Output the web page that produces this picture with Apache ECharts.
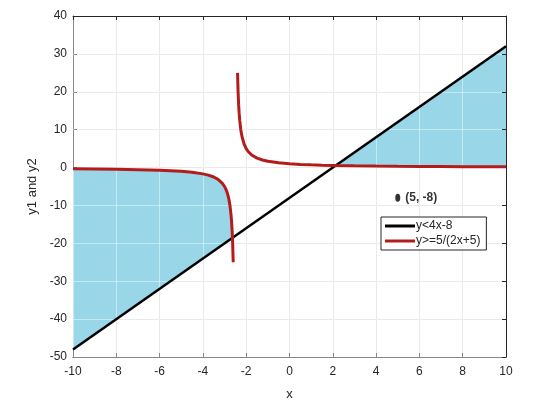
<!DOCTYPE html>
<html>
<head>
<meta charset="utf-8">
<script src="https://cdn.jsdelivr.net/npm/echarts@6/dist/echarts.min.js"></script>
<style>html,body{margin:0;padding:0;background:#fff;}#c{width:537px;height:418px;}</style>
</head>
<body>
<div id="c"></div>
<script>
// Straight line y = 4x - 8 (endpoints)
const lineX = [-10, 10];
const lineY = [-48, 32];

// Left branch of y = 5/(2x+5)
const hypLeftX = [-10, -9, -8, -7, -6, -5.5, -5, -4.5, -4, -3.75, -3.5, -3.3, -3.1, -3, -2.95, -2.9, -2.85, -2.8, -2.75, -2.7, -2.675, -2.65, -2.635, -2.625, -2.6];
const hypLeftY = [-0.333, -0.385, -0.455, -0.556, -0.714, -0.833, -1, -1.25, -1.667, -2, -2.5, -3.125, -4.167, -5, -5.556, -6.25, -7.143, -8.333, -10, -12.5, -14.286, -16.667, -18.52, -20, -25];

// Right branch of y = 5/(2x+5)
const hypRightX = [-2.4, -2.375, -2.35, -2.325, -2.3, -2.25, -2.2, -2.1, -2, -1.9, -1.75, -1.5, -1.25, -1, -0.5, 0, 0.5, 1, 1.5, 2, 2.135, 3, 4, 5, 6, 7, 8, 9, 10];
const hypRightY = [25, 20, 16.667, 14.286, 12.5, 10, 8.333, 6.25, 5, 4.167, 3.333, 2.5, 2, 1.667, 1.25, 1, 0.833, 0.714, 0.625, 0.556, 0.54, 0.455, 0.385, 0.333, 0.294, 0.263, 0.238, 0.217, 0.2];

// Intersection points of the two curves
const crossX = [-2.635, 2.135];
const crossY = [-18.52, 0.54];

// Marked point
const pointX = [5];
const pointY = [-8];
const pointLabel = ['(5, -8)'];

const seriesNames = ['y<4x-8', 'y>=5/(2x+5)'];
const xTicks = [-10, -8, -6, -4, -2, 0, 2, 4, 6, 8, 10];
const yTicks = [-50, -40, -30, -20, -10, 0, 10, 20, 30, 40];

const zip = (xs, ys) => xs.map((x, i) => [x, ys[i]]);

// Fill polygons built from the arrays above
const leftPoly = zip(hypLeftX, hypLeftY).filter(p => p[0] <= crossX[0])
  .concat([[lineX[0], lineY[0]]]);
const rightPoly = [[crossX[1], crossY[1]], [lineX[1], lineY[1]]]
  .concat(zip(hypRightX, hypRightY).filter(p => p[0] >= crossX[1]).reverse());
const polys = [leftPoly, rightPoly];

const FONT = 'Liberation Sans, Arial, sans-serif';
const TXT = '#262626';

const chart = echarts.init(document.getElementById('c'), null, {renderer: 'canvas'});
const axisCommonX = {
  type: 'value', min: xTicks[0], max: xTicks[xTicks.length - 1], interval: 2
};
const axisCommonY = {
  type: 'value', min: yTicks[0], max: yTicks[yTicks.length - 1], interval: 10
};
chart.setOption({
  animation: false,
  backgroundColor: '#ffffff',
  textStyle: {fontFamily: FONT},
  grid: {left: 73, right: 31, top: 16, bottom: 61, containLabel: false},
  legend: {
    data: seriesNames,
    orient: 'vertical',
    left: 381, top: 217,
    backgroundColor: '#ffffff',
    borderColor: TXT, borderWidth: 1,
    padding: [3, 6, 3, 4],
    itemGap: 3,
    itemWidth: 30, itemHeight: 3,
    icon: 'rect',
    textStyle: {fontFamily: FONT, fontSize: 12, color: TXT, padding: [0, 0, 0, -4]}
  },
  xAxis: [
    Object.assign({}, axisCommonX, {
      position: 'bottom', z: 0,
      name: 'x', nameLocation: 'middle', nameGap: 31,
      nameTextStyle: {fontFamily: FONT, fontSize: 13, color: TXT},
      axisLine: {show: true, onZero: false, lineStyle: {color: TXT, width: 1}},
      axisTick: {show: true, inside: true, length: 4, lineStyle: {color: TXT}},
      axisLabel: {fontFamily: FONT, fontSize: 12, color: TXT, margin: 9},
      splitLine: {show: true, lineStyle: {color: '#d9d9d9', width: 1}}
    }),
    Object.assign({}, axisCommonX, {
      position: 'top', z: 3,
      axisLine: {show: true, onZero: false, lineStyle: {color: TXT, width: 1}},
      axisTick: {show: true, inside: true, length: 4, lineStyle: {color: TXT}},
      axisLabel: {show: false},
      splitLine: {show: true, lineStyle: {color: 'rgba(255,255,255,0.45)', width: 1}}
    })
  ],
  yAxis: [
    Object.assign({}, axisCommonY, {
      position: 'left', z: 0,
      name: 'y1 and y2', nameLocation: 'middle', nameGap: 25,
      nameTextStyle: {fontFamily: FONT, fontSize: 13, color: TXT},
      axisLine: {show: true, onZero: false, lineStyle: {color: TXT, width: 1}},
      axisTick: {show: true, inside: true, length: 4, lineStyle: {color: TXT}},
      axisLabel: {fontFamily: FONT, fontSize: 12, color: TXT, margin: 6},
      splitLine: {show: true, lineStyle: {color: '#d9d9d9', width: 1}}
    }),
    Object.assign({}, axisCommonY, {
      position: 'right', z: 3,
      axisLine: {show: true, onZero: false, lineStyle: {color: TXT, width: 1}},
      axisTick: {show: true, inside: true, length: 4, lineStyle: {color: TXT}},
      axisLabel: {show: false},
      splitLine: {show: true, lineStyle: {color: 'rgba(255,255,255,0.45)', width: 1}}
    })
  ],
  series: [
    {
      type: 'custom', name: 'fill', z: 2, silent: true,
      xAxisIndex: 0, yAxisIndex: 0,
      data: polys.map((p, i) => [p[0][0], p[0][1], i]),
      encode: {x: 0, y: 1},
      renderItem: function (params, api) {
        const poly = polys[api.value(2)];
        return {
          type: 'polygon',
          shape: {points: poly.map(p => api.coord(p))},
          style: {fill: '#98d6e8', stroke: null}
        };
      }
    },
    {
      type: 'line', name: seriesNames[0], z: 5,
      data: zip(lineX, lineY), showSymbol: false, symbol: 'none',
      lineStyle: {color: '#000000', width: 2.5}, itemStyle: {color: '#000000'}
    },
    {
      type: 'line', name: seriesNames[1], z: 5,
      data: zip(hypLeftX, hypLeftY), showSymbol: false, symbol: 'none',
      lineStyle: {color: '#b41c1c', width: 3}, itemStyle: {color: '#b41c1c'}
    },
    {
      type: 'line', name: seriesNames[1], z: 5,
      data: zip(hypRightX, hypRightY), showSymbol: false, symbol: 'none',
      lineStyle: {color: '#b41c1c', width: 3}, itemStyle: {color: '#b41c1c'}
    },
    {
      type: 'scatter', name: 'point', z: 6,
      data: zip(pointX, pointY), symbol: 'circle', symbolSize: [5, 8],
      itemStyle: {color: '#000000'},
      label: {
        show: true, position: 'right', distance: 5,
        formatter: (p) => pointLabel[p.dataIndex],
        fontFamily: FONT, fontSize: 12, fontWeight: 'bold', color: '#000000'
      }
    }
  ]
});
</script>
</body>
</html>
